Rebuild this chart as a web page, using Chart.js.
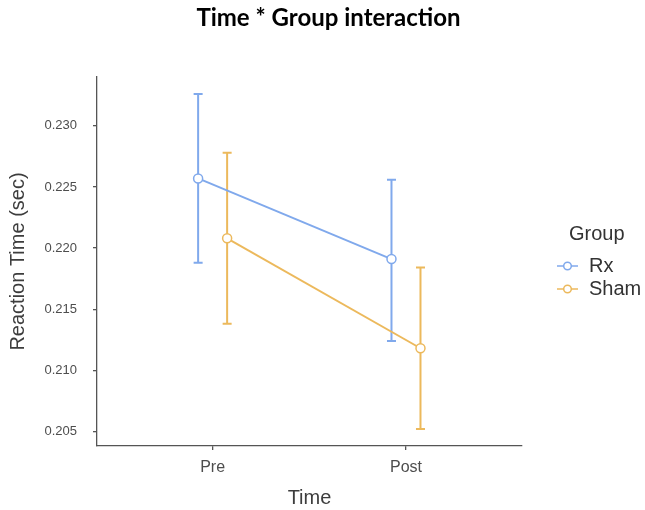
<!DOCTYPE html>
<html>
<head>
<meta charset="utf-8">
<script src="https://cdn.jsdelivr.net/npm/chart.js@4"></script>
<style>
  body { margin: 0; background: #fff; }
  #wrap { width: 645px; height: 510px; }
</style>
</head>
<body>
<div id="wrap"><canvas id="chart" width="645" height="510"></canvas></div>
<script>
// data
const timeLabels = ["Pre", "Post"];
const groups = ["Rx", "Sham"];
const rxMean  = [0.2257, 0.2191];
const rxLow   = [0.2188, 0.2124];
const rxHigh  = [0.2326, 0.2256];
const shamMean = [0.2208, 0.2118];
const shamLow  = [0.2138, 0.2052];
const shamHigh = [0.2278, 0.2184];
const yTicks = [0.205, 0.210, 0.215, 0.220, 0.225, 0.230];
const chartTitle = "Time * Group interaction";

const colors = ["#80a9ec", "#ecb95c"];
const dodge = [-0.075, 0.075];

function series(means, gi) {
  return means.map((v, i) => ({x: i + 1 + dodge[gi], y: v}));
}

const errBars = [
  {low: rxLow, high: rxHigh},
  {low: shamLow, high: shamHigh}
];

const errorBarPlugin = {
  id: "errorBars",
  beforeDatasetsDraw(chart) {
    const ctx = chart.ctx;
    const xs = chart.scales.x, ys = chart.scales.y;
    chart.data.datasets.forEach((ds, di) => {
      ctx.save();
      ctx.strokeStyle = ds.borderColor;
      ctx.lineWidth = 2;
      ds.data.forEach((p, i) => {
        const px = xs.getPixelForValue(p.x);
        const top = ys.getPixelForValue(errBars[di].high[i]);
        const bot = ys.getPixelForValue(errBars[di].low[i]);
        ctx.beginPath();
        ctx.moveTo(px, top); ctx.lineTo(px, bot);
        ctx.moveTo(px - 4.5, top); ctx.lineTo(px + 4.5, top);
        ctx.moveTo(px - 4.5, bot); ctx.lineTo(px + 4.5, bot);
        ctx.stroke();
      });
      ctx.restore();
    });
  }
};

// ggplot-style legend on the right, plus the page title
const legendPlugin = {
  id: "groupLegend",
  afterDraw(chart) {
    const ctx = chart.ctx;
    ctx.save();
    ctx.textBaseline = "middle";
    ctx.textAlign = "center";
    ctx.fillStyle = "#000";
    ctx.font = "bold 24px Lato";
    ctx.fillText(chartTitle, chart.width / 2 + 6, 18);

    const x0 = chart.chartArea.right + 35;
    ctx.textAlign = "left";
    ctx.fillStyle = "#333";
    ctx.font = "20px 'Liberation Sans'";
    ctx.fillText("Group", x0 + 12, 234);
    chart.data.datasets.forEach((ds, i) => {
      const y = 266 + i * 23;
      ctx.strokeStyle = ds.borderColor;
      ctx.lineWidth = 1.5;
      ctx.beginPath();
      ctx.moveTo(x0, y); ctx.lineTo(x0 + 21, y);
      ctx.stroke();
      ctx.beginPath();
      ctx.arc(x0 + 10.5, y, 3.8, 0, Math.PI * 2);
      ctx.fillStyle = "#fff";
      ctx.fill();
      ctx.stroke();
      ctx.fillStyle = "#333";
      ctx.fillText(ds.label, x0 + 32, y);
    });
    ctx.restore();
  }
};

const axisColor = "#555";

new Chart(document.getElementById("chart"), {
  type: "line",
  data: {
    datasets: [
      {label: groups[0], data: series(rxMean, 0), borderColor: colors[0]},
      {label: groups[1], data: series(shamMean, 1), borderColor: colors[1]}
    ].map(d => Object.assign(d, {
      borderWidth: 2,
      pointRadius: 4.5,
      pointBorderWidth: 1.5,
      pointBackgroundColor: "#fff",
      pointBorderColor: d.borderColor,
      tension: 0
    }))
  },
  options: {
    responsive: false,
    animation: false,
    events: [],
    layout: {padding: {left: 0, right: 123, top: 77, bottom: 0}},
    plugins: {
      legend: {display: false},
      tooltip: {enabled: false},
      title: {display: false}
    },
    scales: {
      x: {
        type: "linear",
        min: 0.402,
        max: 2.6,
        afterBuildTicks(scale) { scale.ticks = timeLabels.map((t, i) => ({value: i + 1})); },
        afterFit(scale) { scale.height = 64; },
        ticks: {
          callback: v => timeLabels[v - 1],
          color: "#4d4d4d",
          font: {family: "Liberation Sans", size: 16},
          padding: 8,
          maxRotation: 0
        },
        grid: {drawOnChartArea: false, drawTicks: true, tickLength: 4, color: axisColor, lineWidth: 1.3},
        border: {display: true, color: axisColor, width: 1.3},
        title: {
          display: true,
          text: "Time",
          color: "#3d3d3d",
          font: {family: "Liberation Sans", size: 20},
          padding: {top: 0, bottom: 0}
        }
      },
      y: {
        min: 0.2038,
        max: 0.2340,
        afterBuildTicks(scale) { scale.ticks = yTicks.map(v => ({value: v})); },
        afterFit(scale) { scale.width = 97; },
        ticks: {
          callback: v => v.toFixed(3),
          color: "#4d4d4d",
          font: {family: "Liberation Sans", size: 13},
          padding: 16
        },
        grid: {drawOnChartArea: false, drawTicks: true, tickLength: 4, color: axisColor, lineWidth: 1.3},
        border: {display: true, color: axisColor, width: 1.3},
        title: {
          display: true,
          text: "Reaction Time (sec)",
          color: "#3d3d3d",
          font: {family: "Liberation Sans", size: 20},
          padding: {top: 6, bottom: 0}
        }
      }
    }
  },
  plugins: [errorBarPlugin, legendPlugin]
});
</script>
</body>
</html>
